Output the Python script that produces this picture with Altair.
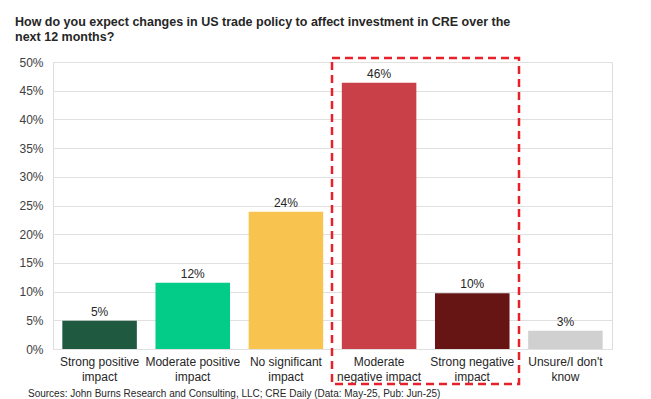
import altair as alt
import pandas as pd

categories = [
    "Strong positive\nimpact",
    "Moderate positive\nimpact",
    "No significant\nimpact",
    "Moderate\nnegative impact",
    "Strong negative\nimpact",
    "Unsure/I don't\nknow",
]
values = [4.9, 11.55, 23.9, 46.4, 9.7, 3.2]
colors = ["#1f5a40", "#02cc88", "#f8c44f", "#c94048", "#661414", "#d0d0d0"]
y_ticks = [0, 5, 10, 15, 20, 25, 30, 35, 40, 45, 50]
title_lines = [
    "How do you expect changes in US trade policy to affect investment in CRE over the",
    "next 12 months?",
]
source_text = "Sources: John Burns Research and Consulting, LLC; CRE Daily (Data: May-25, Pub: Jun-25)"

df = pd.DataFrame({"cat": categories, "val": values, "color": colors})

FONT = "Liberation Sans"

x_enc = alt.X(
    "cat:N",
    sort=categories,
    scale=alt.Scale(paddingInner=0.2, paddingOuter=0.1),
    axis=alt.Axis(
        title=None,
        labelAngle=0,
        labelExpr="split(datum.label, '\\n')",
        labelFontSize=12,
        labelFont=FONT,
        labelColor="#262626",
        labelLineHeight=15,
        labelPadding=7,
        labelBaseline="top",
        ticks=False,
        domain=False,
        grid=False,
    ),
)
y_enc = alt.Y(
    "val:Q",
    scale=alt.Scale(domain=[0, 50], nice=False),
    axis=alt.Axis(
        title=None,
        values=y_ticks,
        labelExpr="datum.value + '%'",
        labelOverlap=False,
        labelFontSize=12,
        labelFont=FONT,
        labelColor="#404040",
        labelPadding=10,
        ticks=False,
        domain=False,
        grid=True,
        gridColor="#e0e0e0",
        gridWidth=1,
    ),
)

bars = alt.Chart(df).mark_bar().encode(
    x=x_enc,
    y=y_enc,
    color=alt.Color("color:N", scale=None),
)

labels = alt.Chart(df).transform_calculate(
    lab="round(datum.val) + '%'"
).mark_text(
    baseline="alphabetic", dy=-5, fontSize=12, font=FONT, color="#262626"
).encode(
    x=x_enc,
    y=y_enc,
    text="lab:N",
)

box = alt.Chart(alt.Data(values=[{}])).mark_rect(
    fillOpacity=0, stroke="#e8202a", strokeWidth=2.5, strokeDash=[8, 5]
).encode(
    x=alt.value(279), x2=alt.value(466), y=alt.value(-4), y2=alt.value(322)
)

source = alt.Chart(alt.Data(values=[{}])).mark_text(
    align="left", baseline="middle", fontSize=10, font=FONT, color="#262626",
    text=source_text,
).encode(x=alt.value(-25), y=alt.value(332))

chart = alt.layer(bars, labels, box, source).properties(
    width=559,
    height=287,
    title=alt.TitleParams(
        text=title_lines,
        anchor="start",
        frame="group",
        dx=-38,
        offset=13,
        fontSize=12.5,
        font=FONT,
        fontWeight="bold",
        color="#262626",
        lineHeight=15,
    ),
    autosize=alt.AutoSizeParams(type="none"),
    padding={"left": 45, "top": 54, "right": 30, "bottom": 50},
).configure_view(stroke=None).configure(background="white")

chart.save("out.html", embed_options={"renderer": "svg", "actions": False})
